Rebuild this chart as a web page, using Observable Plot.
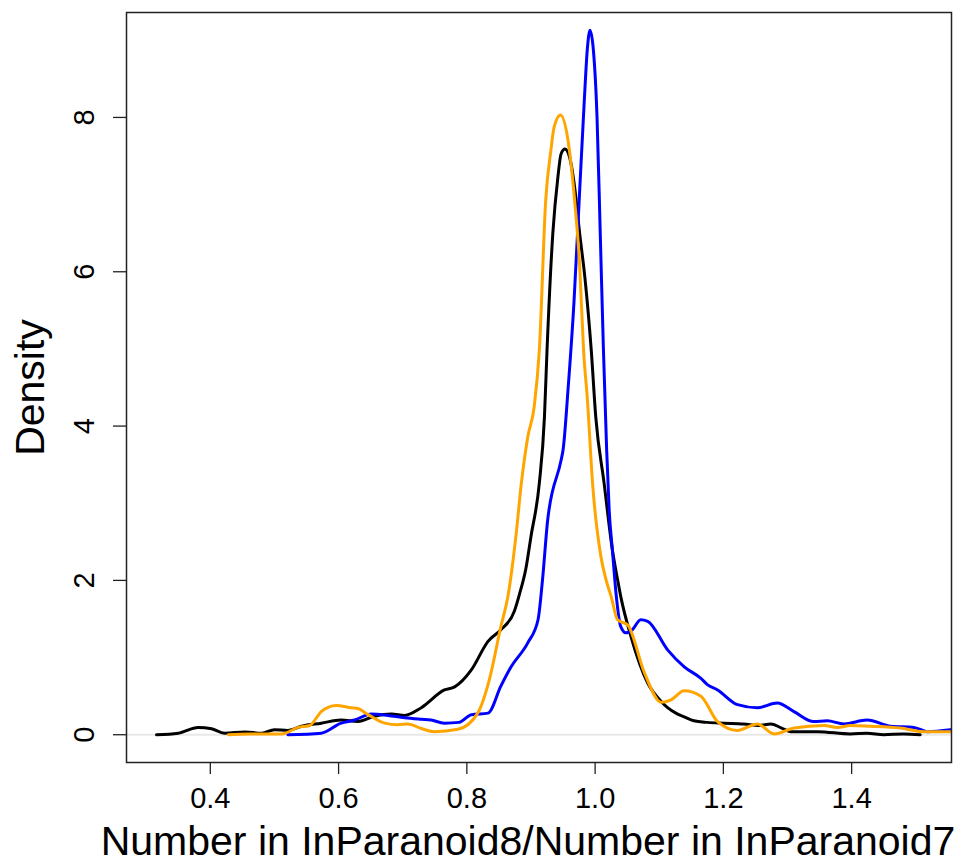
<!DOCTYPE html>
<html>
<head>
<meta charset="utf-8">
<script src="https://cdn.jsdelivr.net/npm/d3@7"></script>
<script src="https://cdn.jsdelivr.net/npm/@observablehq/plot@0.6"></script>
<style>
  html, body { margin: 0; padding: 0; background: #fff; overflow: hidden; }
</style>
</head>
<body>
<div id="chart"></div>
<script>
const xTicks = [0.4, 0.6, 0.8, 1.0, 1.2, 1.4];
const yTicks = [0, 2, 4, 6, 8];
const xTitle = "Number in InParanoid8/Number in InParanoid7";
const yTitle = "Density";

const blackX = [0.316,0.35,0.381,0.402,0.422,0.454,0.48,0.50,0.521,0.542,0.573,0.604,0.630,0.656,0.682,0.703,0.729,0.765,0.781,0.807,0.833,0.853,0.874,0.882,0.892,0.900,0.913,0.921,0.925,0.934,0.942,0.947,0.953,0.960,0.968,0.976,0.984,0.994,1.001,1.014,1.027,1.035,1.040,1.056,1.082,1.103,1.113,1.128,1.139,1.154,1.175,1.201,1.232,1.255,1.274,1.29,1.305,1.347,1.398,1.424,1.450,1.481,1.507];
const blackY = [0,0.02,0.095,0.078,0.02,0.035,0.02,0.065,0.056,0.11,0.15,0.19,0.17,0.24,0.27,0.25,0.35,0.58,0.62,0.84,1.21,1.36,1.60,1.82,2.15,2.57,3.26,4.12,4.98,6.49,7.23,7.53,7.59,7.49,7.10,6.49,5.93,4.98,4.12,3.26,2.39,2.01,1.79,1.27,0.67,0.43,0.35,0.27,0.23,0.18,0.16,0.15,0.14,0.12,0.14,0.09,0.04,0.04,0.01,0.02,0,0.01,0];

const blueX = [0.521,0.573,0.604,0.625,0.651,0.677,0.703,0.729,0.744,0.765,0.788,0.807,0.833,0.853,0.869,0.895,0.911,0.918,0.926,0.947,0.950,0.958,0.967,0.975,0.983,0.988,0.992,0.997,1.003,1.008,1.013,1.018,1.022,1.027,1.033,1.040,1.048,1.058,1.071,1.082,1.113,1.139,1.165,1.175,1.191,1.222,1.253,1.284,1.310,1.341,1.362,1.388,1.424,1.461,1.497,1.518,1.554];
const blueY = [0,0.02,0.15,0.19,0.27,0.25,0.22,0.20,0.19,0.15,0.16,0.26,0.28,0.63,0.88,1.19,1.49,2.01,2.78,3.56,3.69,4.5,5.6,6.9,8.2,8.9,9.13,8.9,8.0,6.5,4.98,3.69,2.9,2.39,1.8,1.40,1.32,1.36,1.49,1.47,1.10,0.88,0.73,0.65,0.58,0.39,0.35,0.41,0.30,0.17,0.18,0.14,0.19,0.11,0.095,0.04,0.065];

const orangeX = [0.428,0.46,0.511,0.537,0.555,0.573,0.596,0.620,0.630,0.646,0.672,0.692,0.708,0.729,0.749,0.786,0.817,0.835,0.853,0.864,0.877,0.885,0.895,0.905,0.913,0.923,0.931,0.936,0.946,0.957,0.968,0.976,0.982,0.988,0.996,1.009,1.017,1.025,1.035,1.051,1.077,1.103,1.118,1.139,1.165,1.191,1.222,1.253,1.279,1.310,1.357,1.378,1.398,1.429,1.476,1.512,1.554];
const orangeY = [0,0.01,0.01,0.095,0.12,0.30,0.38,0.35,0.34,0.26,0.15,0.13,0.14,0.08,0.04,0.07,0.28,0.71,1.40,1.79,2.61,3.26,3.86,4.25,4.98,6.93,7.57,7.87,8.03,7.74,6.93,6.06,4.98,4.34,3.26,2.31,2.01,1.79,1.49,1.42,0.80,0.42,0.45,0.57,0.50,0.17,0.056,0.14,0.01,0.086,0.12,0.095,0.12,0.11,0.086,0.04,0.04];

const toRows = (xs, ys) => xs.map((x, i) => ({x, y: ys[i]}));
const black = toRows(blackX, blackY);
const blue = toRows(blueX, blueY);
const orange = toRows(orangeX, orangeY);

const font = "'Liberation Sans', Arial, Helvetica, sans-serif";

const chart = Plot.plot({
  width: 970,
  height: 862,
  marginLeft: 126,
  marginRight: 19,
  marginTop: 12,
  marginBottom: 100,
  style: {fontFamily: font, background: "white", color: "black"},
  x: {domain: [0.2693, 1.5557]},
  y: {domain: [-0.36, 9.36]},
  marks: [
    Plot.ruleY([0], {stroke: "#e8e8e8", strokeWidth: 2}),
    Plot.line(black, {x: "x", y: "y", stroke: "black", strokeWidth: 3, curve: "monotone-x", clip: true}),
    Plot.line(blue, {x: "x", y: "y", stroke: "#0000ff", strokeWidth: 3, curve: "monotone-x", clip: true}),
    Plot.line(orange, {x: "x", y: "y", stroke: "#ffa500", strokeWidth: 3, curve: "monotone-x", clip: true}),
    Plot.frame({stroke: "#222", strokeWidth: 1.5}),
    Plot.axisX({ticks: xTicks, tickSize: 12, tickPadding: 13, tickFormat: d => d.toFixed(1), fontSize: 29, label: null, stroke: "#222", strokeWidth: 1.3}),
    Plot.axisY({ticks: yTicks, tickSize: 13, tickFormat: () => "", label: null, stroke: "#222", strokeWidth: 1.3}),
    Plot.text(yTicks, {y: d => d, text: d => String(d), frameAnchor: "left", dx: -42, rotate: -90, fontSize: 29, lineAnchor: "middle", textAnchor: "middle"}),
    Plot.text([xTitle], {text: d => d, frameAnchor: "bottom", dx: -11, dy: 92, fontSize: 41, lineAnchor: "bottom", textAnchor: "middle"}),
    Plot.text([yTitle], {text: d => d, frameAnchor: "left", dx: -96, rotate: -90, fontSize: 41, lineAnchor: "middle", textAnchor: "middle"})
  ]
});
document.getElementById("chart").appendChild(chart);
</script>
</body>
</html>
